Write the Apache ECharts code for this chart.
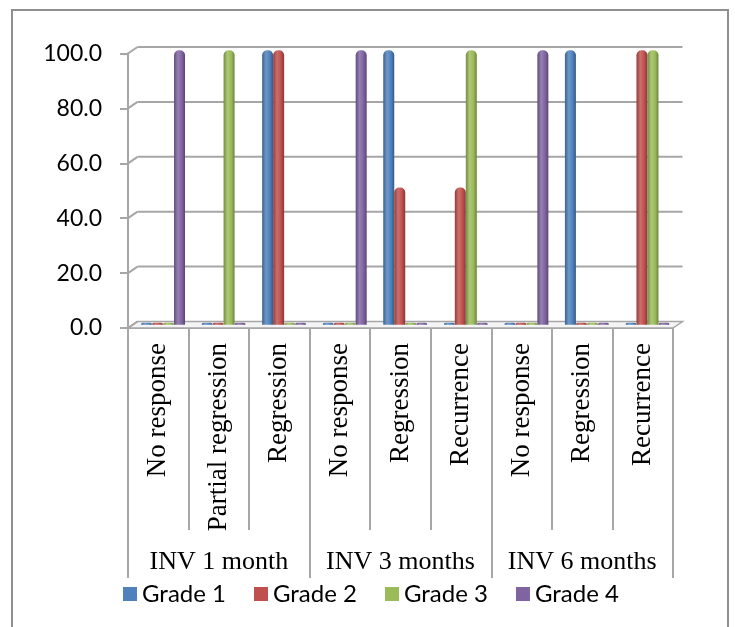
<!DOCTYPE html>
<html><head><meta charset="utf-8">
<script src="https://cdn.jsdelivr.net/npm/echarts@6/dist/echarts.min.js"></script>
<style>html,body{margin:0;padding:0;background:#fff}#c{width:735px;height:627px}</style>
</head><body><div id="c"></div>
<script>
// ---- data ----
const categories = ['No response','Partial regression','Regression','No response','Regression','Recurrence','No response','Regression','Recurrence'];
const groups = ['INV 1 month','INV 3 months','INV 6 months'];
const seriesNames = ['Grade 1','Grade 2','Grade 3','Grade 4'];
const grade1 = [0,0,100,0,100,0,0,100,0];
const grade2 = [0,0,100,0,50,50,0,0,100];
const grade3 = [0,100,0,0,0,100,0,0,100];
const grade4 = [100,0,0,100,0,0,100,0,0];
const yTicks = [0,20,40,60,80,100];

// ---- style ----
const colors = ['#4F81BD','#C0504D','#9BBB59','#8064A2'];
const DX = 9.5, DY = -6.5;
const FRONT = {left:128, top:53.5, width:545, height:274.5};
const GRID_COLOR = '#a6a6a6';
const serif = 'Liberation Serif';
const sans = 'Lato';

function mix(hex, t) { // t<0 darken, t>0 lighten
  const n = parseInt(hex.slice(1),16);
  let r=(n>>16)&255,g=(n>>8)&255,b=n&255;
  const f = c => t<0 ? Math.round(c*(1+t)) : Math.round(c+(255-c)*t);
  return 'rgb('+f(r)+','+f(g)+','+f(b)+')';
}
function cyl(hex){
  return new echarts.graphic.LinearGradient(0,0,1,0,[
    {offset:0,color:mix(hex,-0.25)},
    {offset:0.35,color:mix(hex,0.18)},
    {offset:0.7,color:hex},
    {offset:1,color:mix(hex,-0.3)}
  ]);
}

const seriesData = [grade1, grade2, grade3, grade4];

const chart = echarts.init(document.getElementById('c'), null, {renderer:'canvas'});
const option = {
  animation:false,
  backgroundColor:'#fff',
  graphic:[{type:'rect', shape:{x:12, y:10, width:716, height:720}, style:{fill:'none', stroke:'#8f8f8f', lineWidth:2}, silent:true}],
  grid:[
    {left:FRONT.left, top:FRONT.top, width:FRONT.width, height:FRONT.height},
    {left:FRONT.left+DX/2, top:FRONT.top+DY/2, width:FRONT.width, height:FRONT.height}
  ],
  legend:{
    data: seriesNames.map((n,i)=>({name:n, itemStyle:{color:colors[i]}})),
    icon:'rect', itemWidth:14, itemHeight:14, itemGap:28,
    left:118, top:577,
    textStyle:{fontFamily:sans, fontSize:24, color:'#000'}
  },
  xAxis:[
    {type:'category', gridIndex:0, data:categories, position:'bottom',
     axisLine:{show:true, lineStyle:{color:GRID_COLOR, width:2}},
     axisTick:{show:true, interval:0, length:202, lineStyle:{color:GRID_COLOR, width:2}},
     axisLabel:{interval:0, rotate:90, margin:15, fontFamily:serif, fontSize:27, color:'#000'},
     splitLine:{show:false}},
    {type:'category', gridIndex:1, data:categories, show:false},
    {type:'category', gridIndex:0, data:groups, position:'bottom',
     axisLine:{show:false},
     axisTick:{show:true, interval:0, length:250, lineStyle:{color:GRID_COLOR, width:2}},
     axisLabel:{interval:0, margin:221, fontFamily:serif, fontSize:26, color:'#000'},
     splitLine:{show:false}}
  ],
  yAxis:[
    {type:'value', gridIndex:0, min:0, max:100, interval:20,
     axisLine:{show:true, lineStyle:{color:GRID_COLOR, width:2}},
     axisTick:{show:true, length:8, lineStyle:{color:GRID_COLOR, width:2}},
     axisLabel:{margin:26, fontFamily:sans, fontSize:23, color:'#000', formatter:v=>v.toFixed(1)},
     splitLine:{show:false}},
    {type:'value', gridIndex:1, min:0, max:100, interval:20, show:false, splitLine:{show:false}}
  ],
  series:[
    {type:'custom', xAxisIndex:0, yAxisIndex:0, z:1, clip:false, silent:true,
     data: yTicks.map(v=>[0,v]),
     encode:{x:0,y:1},
     renderItem:function(params, api){
       const v = api.value(1);
       const c = api.coord([0, v]);
       const band = api.size([1,0])[0];
       const x0 = c[0]-band/2, x1 = x0 + band*categories.length, y = c[1];
       const children = [];
       if (v === 0) {
         children.push({type:'polygon', shape:{points:[[x0,y],[x1,y],[x1+DX,y+DY],[x0+DX,y+DY]]},
           style:{fill:'#f4f4f4', stroke:GRID_COLOR, lineWidth:1.5}});
       } else {
         children.push({type:'line', shape:{x1:x0+DX,y1:y+DY,x2:x1+DX,y2:y+DY}, style:{stroke:GRID_COLOR, lineWidth:2}});
       }
       children.push({type:'line', shape:{x1:x0,y1:y,x2:x0+DX,y2:y+DY}, style:{stroke:GRID_COLOR, lineWidth:2}});
       return {type:'group', children:children};
     }
    }
  ].concat(seriesData.map((d,i)=>({
    type:'bar', name:seriesNames[i], xAxisIndex:1, yAxisIndex:1, z:3,
    data:d, barWidth:11, barGap:'0%', barMinHeight:2,
    itemStyle:{color:cyl(colors[i]), borderRadius:[5,5,0,0]}
  })))
};
chart.setOption(option);
</script>
</body></html>
